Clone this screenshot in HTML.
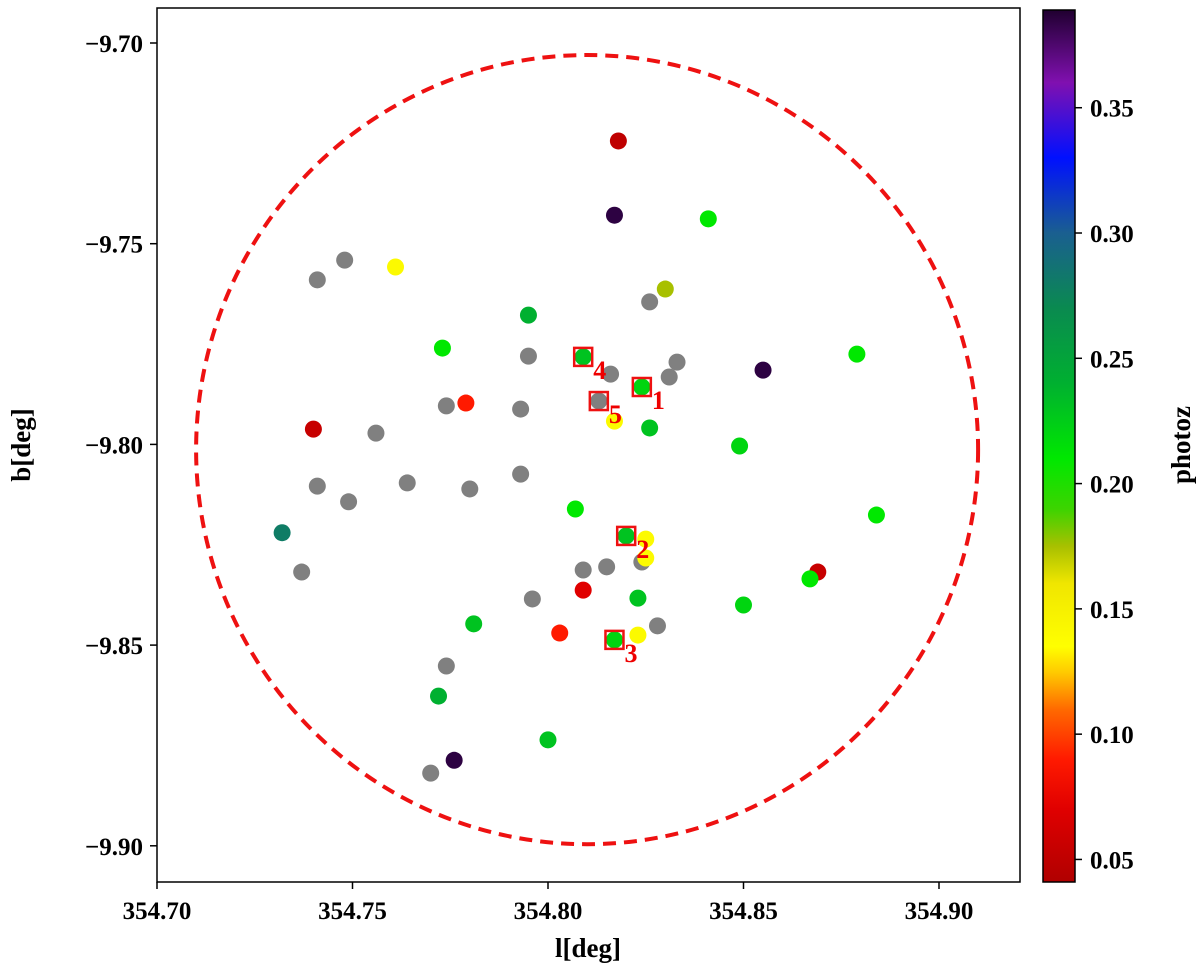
<!DOCTYPE html>
<html><head><meta charset="utf-8"><style>
body{margin:0;background:#fff}
svg text{font-family:"Liberation Serif",serif;font-weight:bold;fill:#000}
</style></head><body>
<svg id="chart" width="1200" height="972" xmlns="http://www.w3.org/2000/svg">
<defs>
<linearGradient id="cmap" x1="0" y1="1" x2="0" y2="0"></linearGradient>
<clipPath id="clip"><rect x="157" y="8" width="863" height="874"/></clipPath>
</defs>
<g id="plot"></g>
</svg>
<script>
const lVals=[354.818,354.817,354.841,354.741,354.748,354.761,354.830,354.826,354.795,354.773,354.795,354.809,354.816,354.833,354.831,354.855,354.879,354.824,354.813,354.817,354.826,354.849,354.774,354.779,354.793,354.740,354.756,354.741,354.749,354.764,354.780,354.793,354.732,354.807,354.820,354.825,354.824,354.825,354.809,354.815,354.737,354.869,354.867,354.809,354.823,354.850,354.796,354.781,354.803,354.828,354.823,354.817,354.884,354.774,354.772,354.800,354.770,354.776];
const bVals=[-9.7244,-9.7429,-9.7438,-9.7590,-9.7541,-9.7558,-9.7613,-9.7645,-9.7678,-9.7760,-9.7780,-9.7782,-9.7825,-9.7795,-9.7832,-9.7815,-9.7775,-9.7857,-9.7892,-9.7942,-9.7959,-9.8004,-9.7904,-9.7897,-9.7912,-9.7962,-9.7972,-9.8104,-9.8143,-9.8096,-9.8111,-9.8074,-9.8220,-9.8161,-9.8228,-9.8236,-9.8293,-9.8283,-9.8313,-9.8305,-9.8318,-9.8318,-9.8335,-9.8363,-9.8383,-9.8400,-9.8385,-9.8447,-9.8470,-9.8452,-9.8475,-9.8487,-9.8176,-9.8552,-9.8627,-9.8736,-9.8819,-9.8787];
const zVals=[0.05,0.385,0.21,null,null,0.14,0.175,null,0.24,0.21,null,0.23,null,null,null,0.385,0.21,0.22,null,0.14,0.23,0.22,null,0.09,null,0.055,null,null,null,null,null,null,0.28,0.21,0.23,0.14,null,0.14,null,null,null,0.055,0.21,0.07,0.23,0.22,null,0.23,0.09,null,0.14,0.22,0.21,null,0.24,0.23,null,0.385];
const boxIdx=[17,34,51,11,18];
const boxLabels=["1","2","3","4","5"];
const xTicks=[354.70,354.75,354.80,354.85,354.90];
const yTicks=[-9.70,-9.75,-9.80,-9.85,-9.90];
const cTicks=[0.05,0.10,0.15,0.20,0.25,0.30,0.35];
const circle={l:354.81,b:-9.8013,rl:0.1,rb:0.0983};
const NS='http://www.w3.org/2000/svg';
const X=v=>157+(v-354.70)*3910;
const Y=v=>43+(-9.70-v)*4014;
const zMin=0.041,zMax=0.389;
const C=v=>882-(v-zMin)/(zMax-zMin)*872;
const stops=[[0.041,'#b00000'],[0.07,'#e00000'],[0.09,'#ff1a00'],[0.11,'#ff6a00'],[0.125,'#ffcc00'],[0.135,'#ffff00'],[0.16,'#f0e600'],[0.175,'#a8c000'],[0.19,'#3cd400'],[0.21,'#00e800'],[0.24,'#00b030'],[0.27,'#0a8a50'],[0.30,'#1a5f90'],[0.33,'#0010ff'],[0.36,'#8010b0'],[0.389,'#200030']];
function hex(h){return [1,3,5].map(i=>parseInt(h.substr(i,2),16));}
function cmap(v){for(let i=0;i<stops.length-1;i++){const[a,ca]=stops[i],[b,cb]=stops[i+1];if(v<=b){const t=Math.max(0,(v-a)/(b-a));const A=hex(ca),B=hex(cb);return 'rgb('+A.map((x,k)=>Math.round(x+(B[k]-x)*t)).join(',')+')';}}return stops[stops.length-1][1];}
function el(tag,attrs,parent){const e=document.createElementNS(NS,tag);for(const k in attrs)e.setAttribute(k,attrs[k]);(parent||g).appendChild(e);return e;}
const g=document.getElementById('plot');
const grad=document.getElementById('cmap');
stops.forEach(s=>{el('stop',{offset:((s[0]-zMin)/(zMax-zMin)),'stop-color':s[1]},grad);});
const frame=el('rect',{x:157,y:8,width:863,height:874,fill:'none',stroke:'#000','stroke-width':1.5});


xTicks.forEach(t=>{const x=X(t);
const tk=el('line',{x1:x,x2:x,y1:882,y2:889,stroke:'#000','stroke-width':1.5});


const tx=el('text',{x:x,y:919,'text-anchor':'middle','font-size':25});tx.textContent=t.toFixed(2);

});
yTicks.forEach(t=>{const y=Y(t);
const tk=el('line',{x1:150,x2:157,y1:y,y2:y,stroke:'#000','stroke-width':1.5});


const tx=el('text',{x:143,y:y+9,'text-anchor':'end','font-size':25});tx.textContent='\u2212'+Math.abs(t).toFixed(2);

});
const xl=el('text',{x:588,y:957,'text-anchor':'middle','font-size':27});xl.textContent='l[deg]';


const yl=el('text',{x:0,y:0,'text-anchor':'middle','font-size':27,transform:'translate(30,445) rotate(-90)'});yl.textContent='b[deg]';


const pg=el('g',{'clip-path':'url(#clip)'});
const circ=el('ellipse',{cx:X(circle.l),cy:Y(circle.b),rx:circle.rl*3910,ry:circle.rb*4014,fill:'none',stroke:'#ee1111','stroke-width':4,'stroke-dasharray':'13,8'},pg);


lVals.forEach((l,i)=>{const z=zVals[i];
const c=el('circle',{cx:X(l),cy:Y(bVals[i]),r:8.5,fill:z===null?'#808080':cmap(z)},pg);

});
boxIdx.forEach((idx,k)=>{const x=X(lVals[idx]),y=Y(bVals[idx]);
const r=el('rect',{x:x-9,y:y-9,width:18,height:18,fill:'none',stroke:'#ee1111','stroke-width':2.5},pg);


const t=el('text',{x:x+10,y:y+22,'font-size':26,style:'fill:#ee0000'},pg);t.textContent=boxLabels[k];

});
const cb=el('rect',{x:1043,y:10,width:32,height:872,fill:'url(#cmap)',stroke:'#000','stroke-width':1.5});


cTicks.forEach(t=>{const y=C(t);
const tk=el('line',{x1:1075,x2:1082,y1:y,y2:y,stroke:'#000','stroke-width':1.5});


const tx=el('text',{x:1090,y:y+9,'font-size':25});tx.textContent=t.toFixed(2);

});
const cl=el('text',{x:0,y:0,'text-anchor':'middle','font-size':27,transform:'translate(1190,445) rotate(-90)'});cl.textContent='photoz';


</script>
</body></html>
